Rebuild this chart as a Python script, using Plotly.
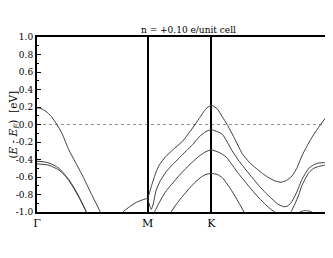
import plotly.graph_objects as go

# High-symmetry points (path length, 2pi/a units)
k_labels = ["Γ", "M", "K"]
k_ticks = [0.0, 0.5774, 0.9107]
k_end = 1.5774  # Gamma again at the end of the path

# Band A (from Gamma, crossing E_F)
kA = [0, 0.0208, 0.0468, 0.0754, 0.1040, 0.1300, 0.1664, 0.2002, 0.2392, 0.2808, 0.3328, 0.3796]
eA = [0.19, 0.183, 0.15, 0.09, 0.0, -0.10, -0.29, -0.43, -0.59, -0.78, -1.01, -1.25]

# Nearly degenerate pair at Gamma
kP = [0, 0.0312, 0.0624, 0.0884, 0.1144, 0.1404, 0.1664, 0.1924, 0.2184, 0.2600, 0.2912]
eP1 = [-0.42, -0.425, -0.44, -0.465, -0.50, -0.56, -0.63, -0.72, -0.82, -1.01, -1.15]
eP2 = [-0.45, -0.455, -0.465, -0.49, -0.52, -0.57, -0.64, -0.73, -0.83, -1.01, -1.15]

# Band 1 (rises to M, peaks at K, minimum then up to Gamma)
k1 = [0.4056, 0.4488, 0.4836, 0.5185, 0.5528, 0.5774, 0.5980, 0.6225, 0.6396, 0.6708,
      0.7088, 0.7608, 0.8128, 0.8476, 0.8825, 0.9107, 0.9412, 0.9672, 0.9932, 1.0296,
      1.0712, 1.1076, 1.1440, 1.1778, 1.2116, 1.2428, 1.2740, 1.3026, 1.3313, 1.3573,
      1.3833, 1.4093, 1.4353, 1.4587, 1.4821, 1.5081, 1.5341, 1.5601, 1.5774]
e1 = [-1.15, -1.0, -0.94, -0.89, -0.86, -0.84, -0.70, -0.54, -0.46, -0.37,
      -0.29, -0.19, -0.04, 0.07, 0.18, 0.22, 0.18, 0.09, 0.0, -0.15,
      -0.33, -0.43, -0.50, -0.56, -0.61, -0.645, -0.66, -0.64, -0.59, -0.50,
      -0.36, -0.25, -0.15, -0.07, 0.0, 0.08, 0.15, 0.18, 0.19]

# Band 2 (V at M, peak at K)
k2 = [0.5774, 0.5876, 0.5965, 0.6058, 0.6225, 0.6448, 0.6745, 0.7072, 0.7436, 0.7800,
      0.8128, 0.8476, 0.8825, 0.9107, 0.9672, 1.0192, 1.0556, 1.0920, 1.1258, 1.1596,
      1.1934, 1.2272, 1.2584, 1.2896, 1.3104, 1.3313, 1.3573, 1.3833, 1.4015, 1.4197,
      1.4457, 1.4717, 1.5029, 1.5393, 1.5774]
e2 = [-0.84, -0.92, -0.97, -0.92, -0.75, -0.64, -0.54, -0.46, -0.38, -0.30,
      -0.23, -0.14, -0.08, -0.06, -0.11, -0.30, -0.42, -0.52, -0.61, -0.70,
      -0.78, -0.85, -0.91, -0.94, -0.93, -0.88, -0.77, -0.63, -0.56, -0.50,
      -0.46, -0.44, -0.435, -0.425, -0.42]

# Band 3
k3 = [0.6032, 0.6136, 0.6344, 0.6568, 0.6812, 0.7088, 0.7436, 0.7785, 0.8112, 0.8476,
      0.8825, 0.9107, 0.9516, 0.9880, 1.0218, 1.0556, 1.0894, 1.1232, 1.1596, 1.1960,
      1.2220, 1.2480, 1.2740, 1.2948, 1.3157, 1.3261, 1.3469, 1.3677, 1.3833, 1.4015,
      1.4197, 1.4457, 1.4717, 1.5029, 1.5393, 1.5774]
e3 = [-1.05, -1.0, -0.91, -0.82, -0.74, -0.67, -0.58, -0.50, -0.43, -0.36,
      -0.31, -0.29, -0.32, -0.37, -0.47, -0.57, -0.66, -0.75, -0.84, -0.92,
      -0.97, -1.01, -1.04, -1.05, -1.03, -1.0, -0.91, -0.80, -0.70, -0.62,
      -0.55, -0.50, -0.48, -0.465, -0.455, -0.45]

# Band 4
k4 = [0.6656, 0.7005, 0.7280, 0.7608, 0.7956, 0.8305, 0.8580, 0.8825, 0.9107, 0.9412,
      0.9688, 0.9932, 1.0208, 1.0504, 1.0816, 1.1076]
e4 = [-1.12, -1.0, -0.91, -0.82, -0.73, -0.65, -0.60, -0.57, -0.56, -0.57,
      -0.61, -0.68, -0.77, -0.88, -1.0, -1.1]

# Small band peeking above -1 eV
k5 = [1.3417, 1.3729, 1.3885, 1.4041, 1.4197, 1.4353, 1.4665]
e5 = [-1.1, -1.0, -0.988, -0.984, -0.988, -1.0, -1.1]

y_ticks = [-1.0, -0.8, -0.6, -0.4, -0.2, 0.0, 0.2, 0.4, 0.6, 0.8, 1.0]
y_ticktext = ["-1.0", "-0.8", "-0.6", "-0.4", "-0.2", "0.0", "0.2", "0.4", "0.6", "0.8", "1.0"]

title_text = "n = +0.10 e/unit cell"
y_title = "(<i>E</i> - <i>E</i><sub><i>F</i></sub>)\u00a0\u00a0[eV]"

SERIF = "'DejaVu Serif', serif"
band_color = "#3c3c3c"

fig = go.Figure()
for kx, ey in [(kA, eA), (kP, eP1), (kP, eP2), (k1, e1), (k2, e2), (k3, e3), (k4, e4), (k5, e5)]:
    fig.add_trace(go.Scatter(x=kx, y=ey, mode="lines",
                             line=dict(color=band_color, width=1, shape="spline", smoothing=0.5),
                             hoverinfo="skip", showlegend=False))

fig.add_shape(type="line", xref="paper", x0=0, x1=1, yref="y", y0=0, y1=0,
              line=dict(color="#909090", width=1, dash="dot"), layer="below")

fig.add_annotation(text=title_text, x=0.5, xref="paper",
                   y=1, yref="paper", yanchor="bottom", showarrow=False, yshift=0,
                   font=dict(family=SERIF, size=9, color="black"))

fig.add_annotation(text=y_title, x=0, xref="paper", xanchor="center", xshift=-24,
                   y=0.5, yref="paper", yanchor="middle", textangle=-90, showarrow=False,
                   font=dict(family=SERIF, size=10.5, color="black"))

fig.update_layout(
    width=333, height=258,
    margin=dict(l=29, r=0, t=29, b=54),
    paper_bgcolor="white", plot_bgcolor="white",
    showlegend=False,
    font=dict(family=SERIF, color="black"),
)
fig.update_xaxes(
    range=[0, k_end], tickvals=k_ticks, ticktext=k_labels,
    showgrid=True, gridcolor="black", gridwidth=1.5,
    showline=True, linecolor="black", linewidth=2, mirror=True,
    ticks="", zeroline=False, tickfont=dict(family=SERIF, size=11, color="black"),
    fixedrange=True,
)
fig.update_yaxes(
    range=[-1, 1], tickvals=y_ticks, ticktext=y_ticktext,
    showgrid=False, zeroline=False,
    showline=True, linecolor="black", linewidth=2, mirror=True,
    ticks="inside", ticklen=4, tickwidth=1, tickcolor="black",
    minor=dict(ticks="inside", ticklen=2, dtick=0.1, tickcolor="black", tickwidth=1),
    tickfont=dict(family=SERIF, size=9, color="black"),
    fixedrange=True,
)

fig.write_html("out.html")
